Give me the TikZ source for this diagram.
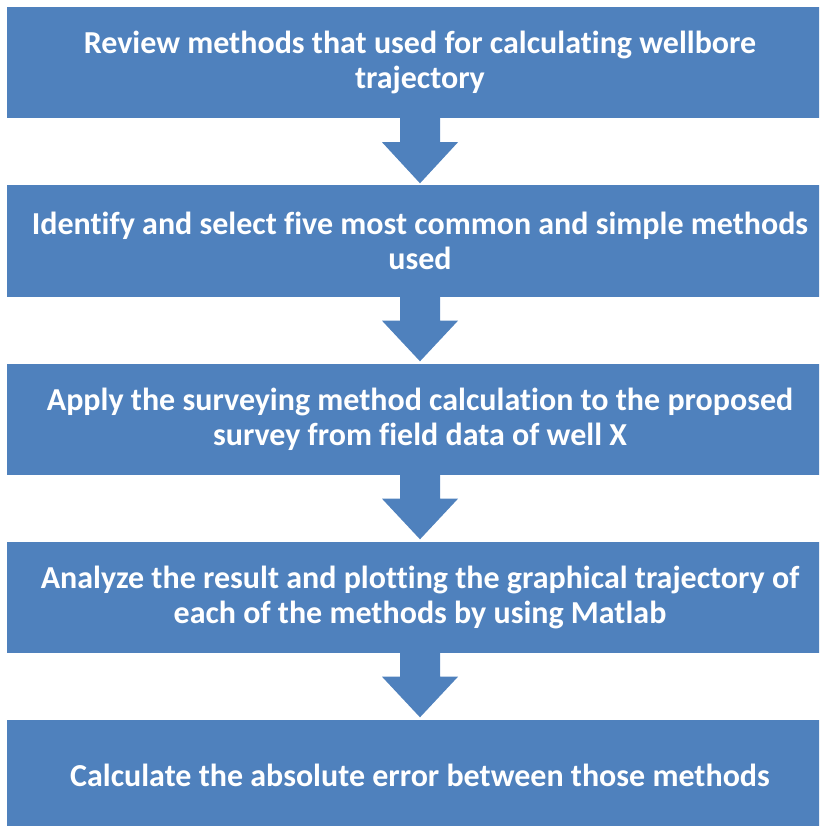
\documentclass[tikz,border=0pt]{standalone}
\usepackage{fontspec}
\setmainfont{Carlito}[Ligatures=NoCommon]
\usetikzlibrary{calc}
\definecolor{boxblue}{HTML}{4F81BD}
\tikzset{
  stepbox/.style={fill=boxblue, draw=none, minimum width=826pt, minimum height=111pt,
    inner sep=0pt, text=white, align=center, font=\fontsize{32}{35}\selectfont\bfseries},
  downarrow/.style={fill=boxblue, draw=none}
}
\newcommand{\flowarrow}[2]{%
  \fill[downarrow] ($(#1.south)+(-20pt,0)$) -- ($(#1.south)+(20pt,0)$) -- ($(#1.south)+(20pt,-24pt)$)
    -- ($(#1.south)+(38pt,-24pt)$) -- ($(#2.north)+(0,2pt)$) -- ($(#1.south)+(-38pt,-24pt)$)
    -- ($(#1.south)+(-20pt,-24pt)$) -- cycle;}
\begin{document}
\begin{tikzpicture}[x=1pt,y=-1pt]
\useasboundingbox (0,0) rectangle (819,826);
\clip (0,0) rectangle (819,826);
\node[stepbox] (b1) at (420,62.5) {Review methods that used for calculating wellbore\\trajectory};
\node[stepbox] (b2) at (420,241) {Identify and select five most common and simple methods\\used};
\node[stepbox] (b3) at (420,419) {Apply the surveying method calculation to the proposed\\survey from field data of well X};
\node[stepbox] (b4) at (420,597) {Analyze the result and plotting the graphical trajectory of\\each of the methods by using Matlab};
\node[stepbox] (b5) at (420,775) {Calculate the absolute error between those methods};
\flowarrow{b1}{b2}
\flowarrow{b2}{b3}
\flowarrow{b3}{b4}
\flowarrow{b4}{b5}
\end{tikzpicture}
\end{document}
